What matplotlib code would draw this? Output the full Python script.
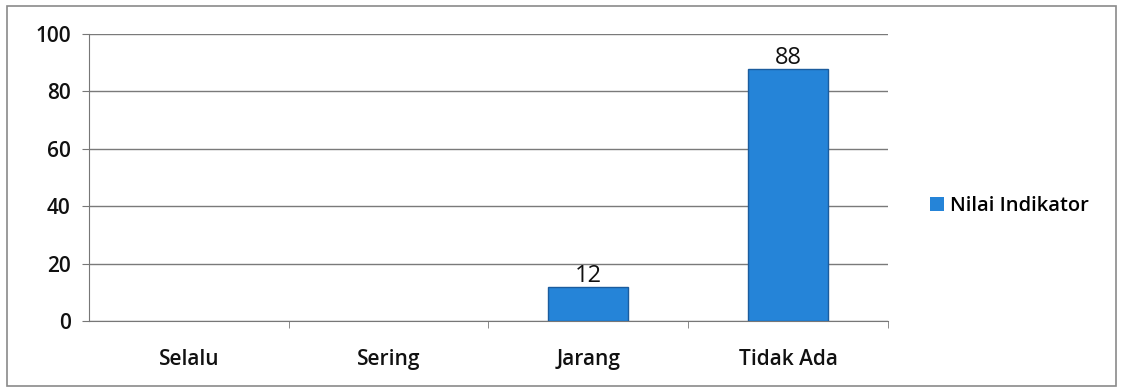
import matplotlib.pyplot as plt
from matplotlib.patches import Rectangle

categories = ['Selalu', 'Sering', 'Jarang', 'Tidak Ada']
values = [0, 0, 12, 88]
value_labels = ['', '', '12', '88']
series_name = 'Nilai Indikator'
yticks = [0, 20, 40, 60, 80, 100]

plt.rcParams['font.family'] = ['Open Sans', 'DejaVu Sans']

fig = plt.figure(figsize=(11.24, 3.92), dpi=100)
ax = fig.add_axes([0.079, 0.181, 0.711, 0.732])

# outer frame of the scanned chart
fig.patches.append(Rectangle((0.006, 0.015), 0.987, 0.97, transform=fig.transFigure,
                             fill=False, edgecolor='#8a8a8a', linewidth=1.2))

x = list(range(len(categories)))
bars = ax.bar(x, values, width=0.4, color='#2584d8', edgecolor='#1b5c9e',
              linewidth=1, label=series_name, zorder=3)
for b, v in zip(bars, values):
    if v == 0:
        b.set_linewidth(0)

for xi, v, lab in zip(x, values, value_labels):
    if lab:
        ax.text(xi, v - 0.5, lab, ha='center', va='bottom', fontsize=17,
                fontweight='medium', color='#111111', zorder=4)

ax.set_xlim(-0.5, len(categories) - 0.5)
ax.set_ylim(0, 100)
ax.set_yticks(yticks)
ax.set_yticklabels([str(t) for t in yticks], fontsize=15, fontweight='semibold', color='#111111')

ax.set_xticks(x)
ax.set_xticklabels(categories, fontsize=15, fontweight='semibold', color='#111111')
ax.tick_params(axis='x', length=0, pad=20)
ax.set_xticks([i + 0.5 for i in range(len(categories))], minor=True)
ax.tick_params(axis='x', which='minor', length=5, color='#777777')
ax.tick_params(axis='y', length=5, color='#777777', pad=8)

ax.grid(axis='y', color='#7a7a7a', linewidth=1, zorder=0)
for side in ['top', 'right']:
    ax.spines[side].set_visible(False)
ax.spines['left'].set_color('#777777')
ax.spines['bottom'].set_color('#777777')

leg = ax.legend(loc='center left', bbox_to_anchor=(1.03, 0.4), frameon=False,
                handlelength=0.7, handleheight=0.7, handletextpad=0.3,
                prop={'size': 14.5, 'weight': 'semibold'})

fig.savefig('out.png', dpi=100)
